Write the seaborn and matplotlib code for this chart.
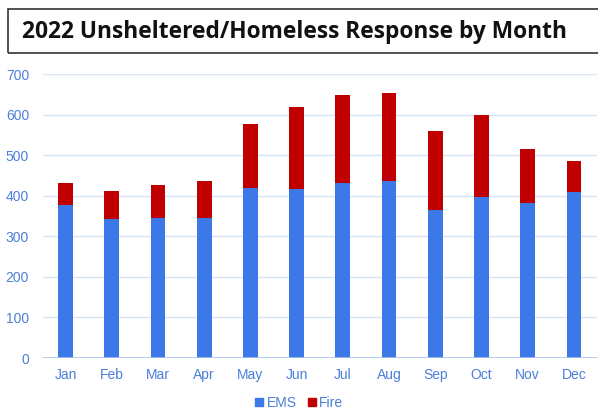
"""
2022 unsheltered/homeless response by month, stacked EMS + Fire bars.
"""
import pandas as pd
import matplotlib.pyplot as plt
import seaborn as sns
from matplotlib.lines import Line2D
from matplotlib.patches import Rectangle

# Chart data
months = ['Jan', 'Feb', 'Mar', 'Apr', 'May', 'Jun',
          'Jul', 'Aug', 'Sep', 'Oct', 'Nov', 'Dec']
ems = [376, 342, 344, 345, 419, 417, 431, 436, 365, 396, 381, 409]
fire = [55, 70, 82, 92, 157, 202, 217, 217, 194, 202, 133, 77]
y_ticks = [0, 100, 200, 300, 400, 500, 600, 700]

EMS_COLOR = '#3c78e8'
FIRE_COLOR = '#c00000'
LABEL_COLOR = '#4a7fd9'
GRID_COLOR = '#d6e3f8'

df = pd.DataFrame({'month': months, 'EMS': ems, 'Fire': fire})
df['total'] = df['EMS'] + df['Fire']

sns.set_style('white')
plt.rcParams['font.family'] = ['Liberation Sans', 'DejaVu Sans']

fig = plt.figure(figsize=(5.98, 4.13), dpi=100)
ax = fig.add_axes([43 / 598, 1 - 358 / 413, 554 / 598, 284 / 413])

# Stacked bars: total in red first, EMS in blue over it
sns.barplot(data=df, x='month', y='total', color=FIRE_COLOR, saturation=1,
            width=0.32, ax=ax, zorder=3, linewidth=0)
sns.barplot(data=df, x='month', y='EMS', color=EMS_COLOR, saturation=1,
            width=0.32, ax=ax, zorder=3, linewidth=0)

ax.set_xlim(-0.49, 11.5)
ax.set_ylim(0, 700)
ax.set_yticks(y_ticks)
ax.set_xlabel('')
ax.set_ylabel('')
for s in ax.spines.values():
    s.set_visible(False)
ax.grid(axis='y', color=GRID_COLOR, linewidth=1, zorder=0)
ax.axhline(0, color='#a9c3ef', linewidth=1.2, zorder=4)
ax.tick_params(axis='both', length=0, labelsize=10, labelcolor=LABEL_COLOR)
ax.tick_params(axis='y', pad=10)
ax.tick_params(axis='x', pad=7)

# Title box
fig.patches.append(Rectangle((8 / 598, 1 - 53 / 413), 600 / 598, 44 / 413,
                             transform=fig.transFigure, fill=False,
                             edgecolor='#333333', linewidth=1.2))
fig.text(22 / 598, 1 - 32 / 413, '2022 Unsheltered/Homeless Response by Month',
         fontsize=16.4, fontweight='bold', family=['Open Sans', 'DejaVu Sans'],
         va='center', ha='left', color='#111111')

# Legend
handles = [Line2D([], [], marker='s', linestyle='', color=EMS_COLOR, markersize=6),
           Line2D([], [], marker='s', linestyle='', color=FIRE_COLOR, markersize=6)]
leg = fig.legend(handles, ['EMS', 'Fire'], loc='center', ncol=2,
                 bbox_to_anchor=(0.5, 1 - 403 / 413), frameon=False,
                 fontsize=10, handlelength=0.6, handletextpad=0.2,
                 columnspacing=0.8)
for t in leg.get_texts():
    t.set_color(LABEL_COLOR)

plt.savefig('out.png', dpi=100)
plt.close()
